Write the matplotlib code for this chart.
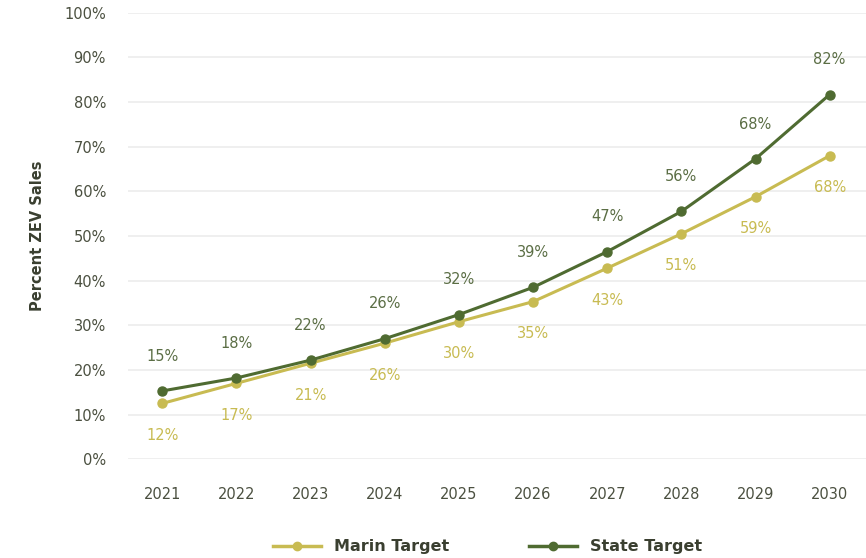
import matplotlib.pyplot as plt
from matplotlib.lines import Line2D

years = [2021, 2022, 2023, 2024, 2025, 2026, 2027, 2028, 2029, 2030]
marin = [12.5, 17, 21.5, 26, 30.8, 35.3, 42.8, 50.5, 58.8, 68]
state = [15.3, 18.2, 22.2, 27, 32.4, 38.5, 46.5, 55.5, 67.3, 81.7]
marin_labels = ['12%', '17%', '21%', '26%', '30%', '35%', '43%', '51%', '59%', '68%']
state_labels = ['15%', '18%', '22%', '26%', '32%', '39%', '47%', '56%', '68%', '82%']

marin_color = '#c8bb52'
state_color = '#4f6b31'
text_color = '#4b5040'

plt.rcParams['font.family'] = 'DejaVu Sans'

fig = plt.figure(figsize=(8.66, 5.58), dpi=100)
ax = fig.add_axes([0.148, 0.177, 0.852, 0.8])

ax.plot(years, marin, color=marin_color, lw=2.2, marker='o', ms=6.5, zorder=3)
ax.plot(years, state, color=state_color, lw=2.2, marker='o', ms=6.5, zorder=4)

for x, y, t in zip(years, state, state_labels):
    ax.annotate(t, (x, y), xytext=(0, 25), textcoords='offset points',
                ha='center', va='center', color='#5b6e45', fontsize=10.5)
for x, y, t in zip(years, marin, marin_labels):
    ax.annotate(t, (x, y), xytext=(0, -23), textcoords='offset points',
                ha='center', va='center', color=marin_color, fontsize=10.5)

ax.set_xlim(2020.54, 2030.49)
ax.set_ylim(0, 100)
ax.set_yticks(range(0, 101, 10))
ax.set_yticklabels([f'{v}%' for v in range(0, 101, 10)])
ax.set_xticks(years)
ax.grid(axis='y', color='#ececec', lw=1.2)
ax.set_axisbelow(True)
for s in ax.spines.values():
    s.set_visible(False)
ax.tick_params(length=0, colors=text_color, labelsize=10.5)
ax.tick_params(axis='x', pad=20)
ax.tick_params(axis='y', pad=16)
ax.set_ylabel('Percent ZEV Sales', fontweight='bold', color='#3a3f30',
              fontsize=10.5, labelpad=14)

handles = [Line2D([], [], color=marin_color, lw=2.5, marker='o', ms=6),
           Line2D([], [], color=state_color, lw=2.5, marker='o', ms=6)]
fig.legend(handles, ['Marin Target', 'State Target'], loc='center',
           bbox_to_anchor=(0.563, 0.02), ncol=2, frameon=False,
           prop={'weight': 'bold', 'size': 11.5}, labelcolor='#3a3f30',
           columnspacing=5, handlelength=3)

fig.savefig('out.png', dpi=100)
